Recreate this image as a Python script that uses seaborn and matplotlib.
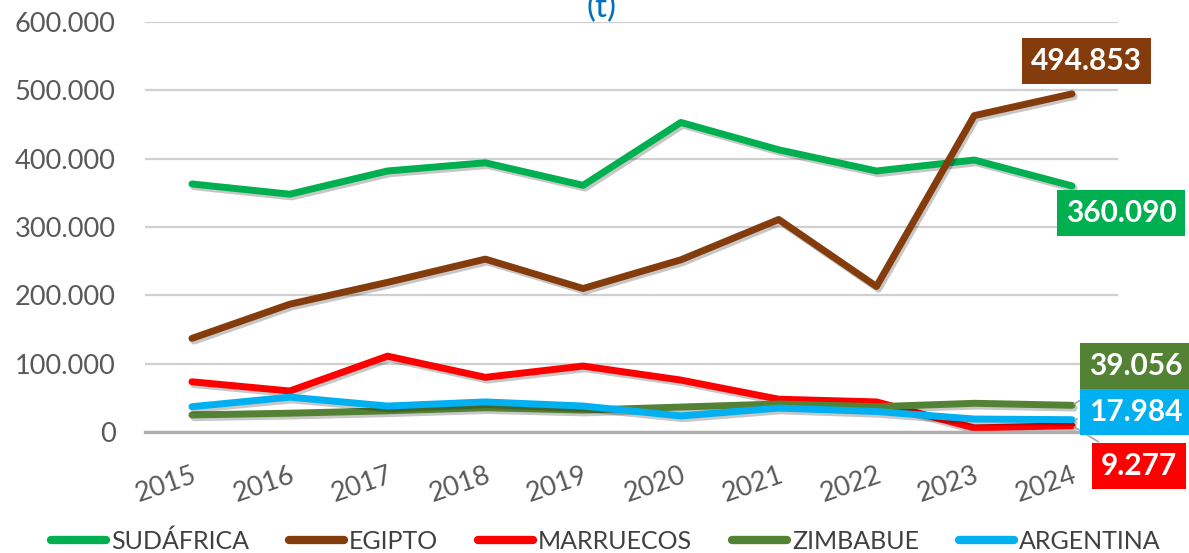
import numpy as np
import pandas as pd
import seaborn as sns
import matplotlib.pyplot as plt
from matplotlib.lines import Line2D
from matplotlib.ticker import FuncFormatter
import matplotlib.patheffects as pe

years = [2015, 2016, 2017, 2018, 2019, 2020, 2021, 2022, 2023, 2024]
sudafrica = [363000, 348000, 382000, 394000, 361000, 453000, 413000, 382000, 398000, 360090]
egipto = [137000, 187000, 219000, 253000, 210000, 252000, 311000, 213000, 463000, 494853]
marruecos = [73500, 60000, 111000, 80000, 96500, 76000, 48000, 44000, 6000, 9277]
zimbabue = [25000, 27500, 31000, 35500, 32000, 36500, 41000, 37000, 42000, 39056]
argentina = [37000, 51000, 38000, 44000, 38000, 23500, 35000, 30000, 19000, 17984]

countries = ["SUDÁFRICA", "EGIPTO", "MARRUECOS", "ZIMBABUE", "ARGENTINA"]
colors = ["#00B050", "#843C0C", "#FF0000", "#548235", "#00B0F0"]
end_labels = ["360.090", "494.853", "9.277", "39.056", "17.984"]
# label centre positions (x in years, y in t)
label_pos = [(2024.50, 320500), (2024.15, 543000), (2024.68, -50000),
             (2024.65, 96600), (2024.65, 29000)]
leader = [False, False, True, True, True]

series = [sudafrica, egipto, marruecos, zimbabue, argentina]
df = pd.DataFrame({
    "year": years * len(countries),
    "pais": [c for c in countries for _ in years],
    "t": [v for s in series for v in s],
})

sns.set_style("white")
plt.rcParams["font.family"] = ["Lato", "DejaVu Sans"]

fig = plt.figure(figsize=(11.89, 5.53), dpi=100)
ax = fig.add_axes([145 / 1189, 121 / 553, 973 / 1189, 410 / 553])

palette = dict(zip(countries, colors))
sns.lineplot(data=df, x="year", y="t", hue="pais", palette=palette,
             linewidth=5, ax=ax, legend=False, sort=False)
for line in ax.get_lines():
    line.set_solid_capstyle("round")
    line.set_path_effects([pe.SimpleLineShadow(offset=(1.5, -2), alpha=0.22, shadow_color="black"),
                           pe.Normal()])

ax.set_xlim(2014.52, 2024.47)
ax.set_ylim(0, 600000)
ax.set_yticks(np.arange(0, 600001, 100000))
ax.yaxis.set_major_formatter(FuncFormatter(lambda v, p: f"{int(v):,}".replace(",", ".")))
ax.set_xticks(years)
ax.set_xticklabels([str(y) for y in years], rotation=19, ha="right", va="top",
                   rotation_mode="anchor")
ax.tick_params(axis="y", length=0, pad=21, labelsize=19.5, labelcolor="#595959")
ax.tick_params(axis="x", length=0, pad=22, labelsize=19.5, labelcolor="#595959")
ax.set_xlabel("")
ax.set_ylabel("")
ax.yaxis.grid(True, color="#D0D0D0", linewidth=1.6)
ax.set_axisbelow(True)
for side in ["top", "right", "left"]:
    ax.spines[side].set_visible(False)
ax.spines["bottom"].set_color("#ADADAD")
ax.spines["bottom"].set_linewidth(2.4)

for c, s, lab, pos, ld in zip(countries, series, end_labels, label_pos, leader):
    col = palette[c]
    arrow = dict(arrowstyle="-", color="#A6A6A6", lw=1.2) if ld else None
    ax.annotate(lab, xy=(years[-1], s[-1]), xytext=pos, textcoords="data",
                ha="center", va="center", color="white", fontsize=21.5,
                fontweight="bold", annotation_clip=False,
                bbox=dict(boxstyle="square,pad=0.3", fc=col, ec="none"),
                arrowprops=arrow, zorder=5)

# the title sits above the picture, only the tail of its second line shows
fig.text(602 / 1189, 1 - 23 / 553, "(t)", ha="center", va="bottom",
         color="#0070C0", fontsize=24)

handles = [Line2D([0], [0], color=col, lw=6, solid_capstyle="round") for col in colors]
fig.legend(handles, countries, loc="center", bbox_to_anchor=(606 / 1189, 1 - 541 / 553),
           ncol=5, frameon=False, fontsize=18, handlelength=2.2, handletextpad=0.2,
           columnspacing=1.6, labelcolor="#404040", borderaxespad=0)

fig.savefig("out.png", dpi=100)
